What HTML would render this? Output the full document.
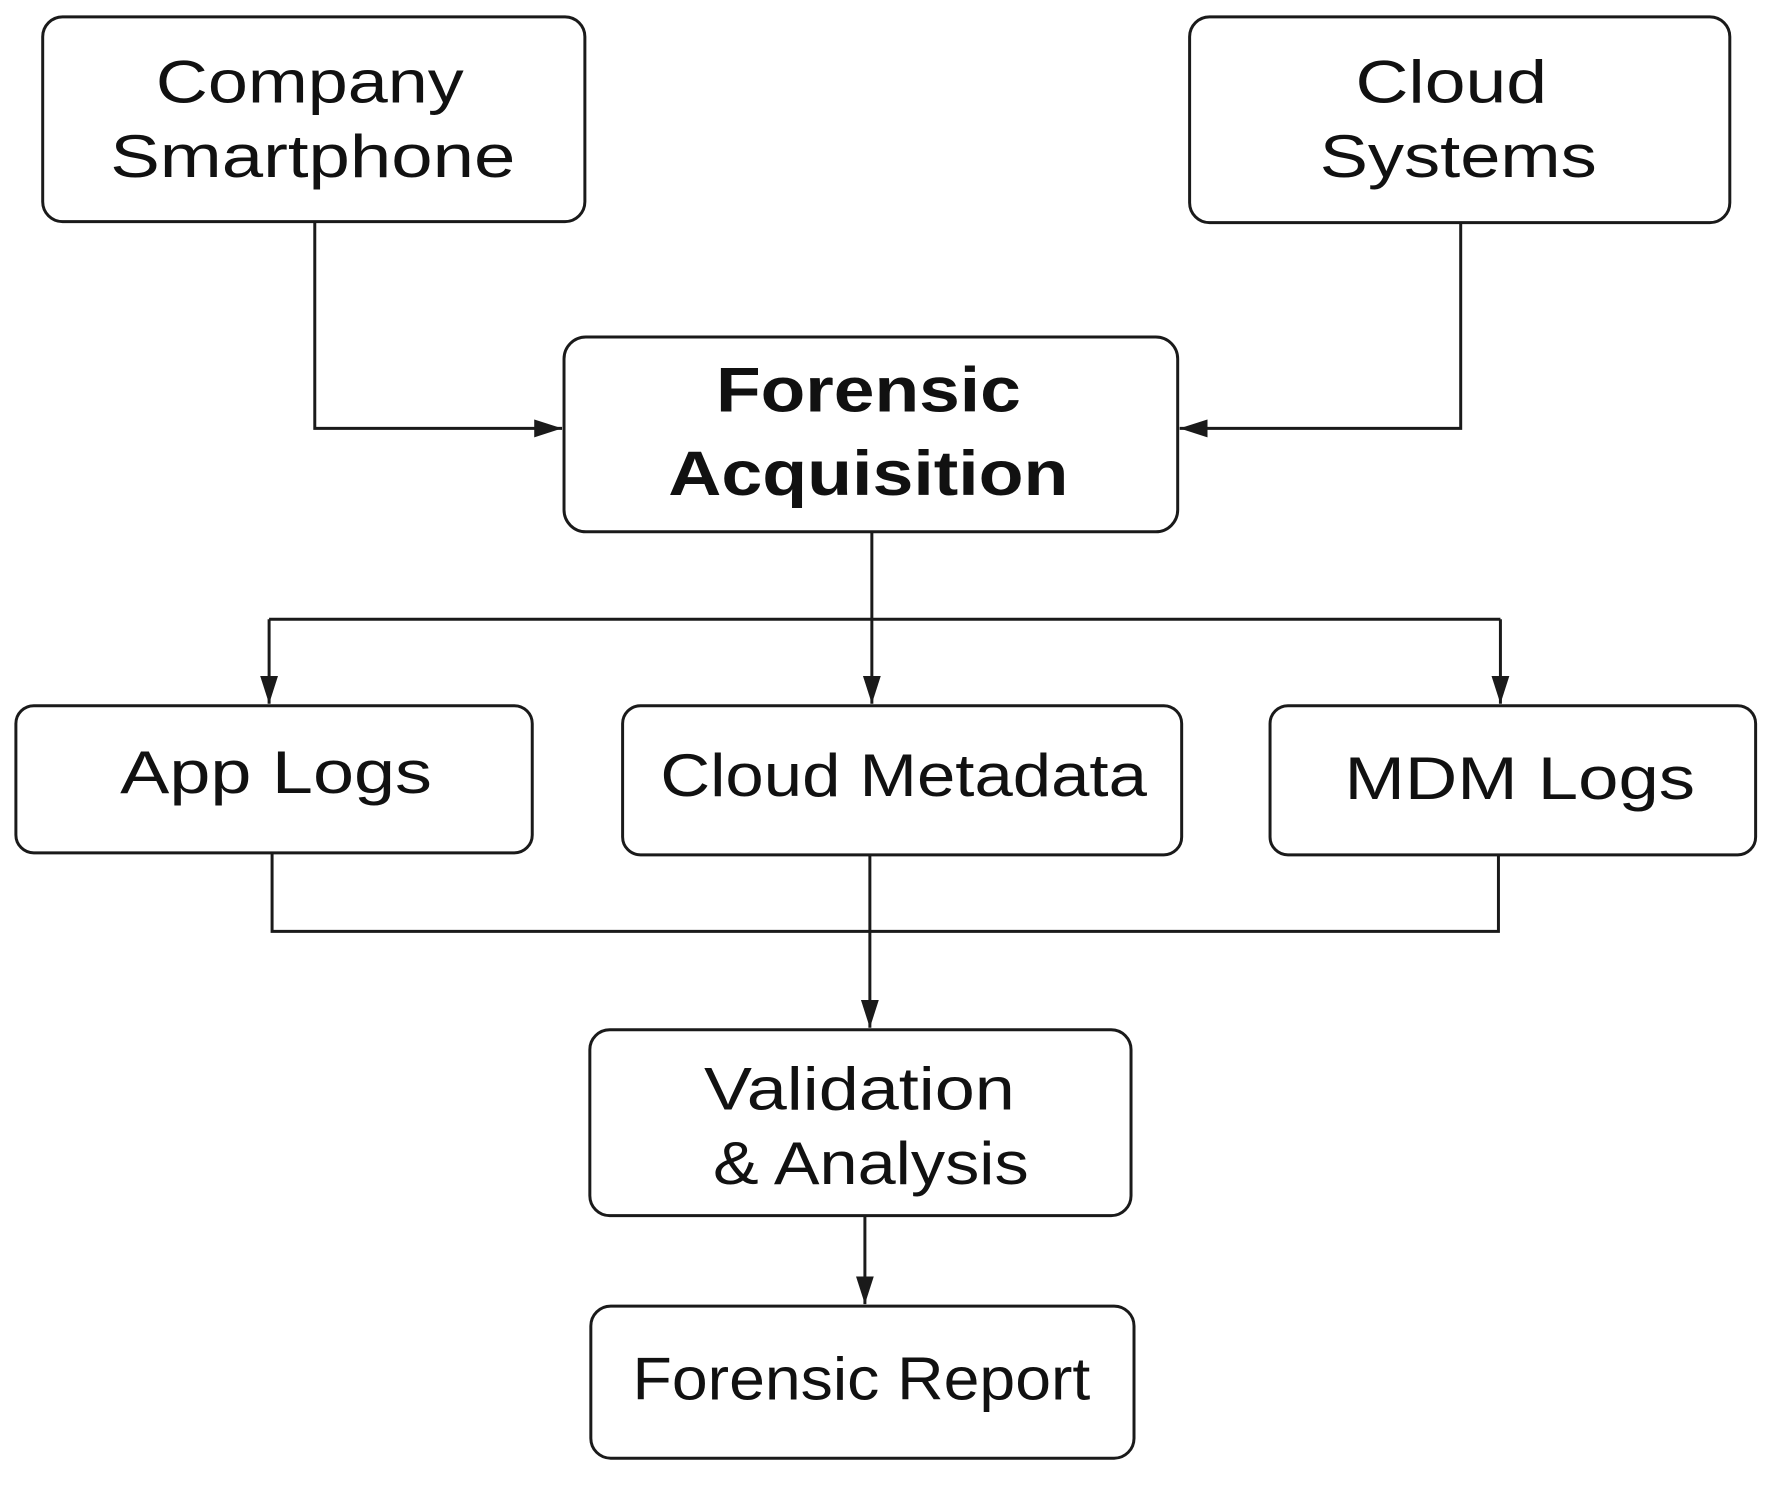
<!DOCTYPE html>
<html><head><meta charset="utf-8"><style>html,body{margin:0;padding:0;background:#fff}svg{display:block}</style></head>
<body>
<svg width="1786" height="1492" viewBox="0 0 1786 1492" xmlns="http://www.w3.org/2000/svg">
<defs>
<marker id="b" markerWidth="28" markerHeight="18" refX="28" refY="9" orient="auto" markerUnits="userSpaceOnUse">
<path d="M0,0 L28,9 L0,18 z" fill="#1a1a1a"/>
</marker>
</defs>
<g transform="scale(0.993,0.994)">
<g fill="#fff" stroke="#1a1a1a" stroke-width="3">
<rect x="43" y="17" width="546" height="206" rx="20"/>
<rect x="1198" y="17" width="544" height="207" rx="20"/>
<rect x="568" y="339" width="618" height="196" rx="22"/>
<rect x="16" y="710" width="520" height="148" rx="18"/>
<rect x="627" y="710" width="563" height="150" rx="18"/>
<rect x="1279" y="710" width="489" height="150" rx="18"/>
<rect x="594" y="1036" width="545" height="187" rx="20"/>
<rect x="595" y="1314" width="547" height="153" rx="20"/>
</g>
<g fill="none" stroke="#1a1a1a" stroke-width="3">
<path d="M317,223 V431 H566" marker-end="url(#b)"/>
<path d="M1471,224 V431 H1188" marker-end="url(#b)"/>
<path d="M878,535 V708" marker-end="url(#b)"/>
<path d="M271,623 H1511"/>
<path d="M271,623 V708" marker-end="url(#b)"/>
<path d="M1511,623 V708" marker-end="url(#b)"/>
<path d="M274,858 V937 H1509 V860"/>
<path d="M876,860 V1034" marker-end="url(#b)"/>
<path d="M871,1223 V1312" marker-end="url(#b)"/>
</g>
<g font-family="Liberation Sans, Arial, sans-serif" font-size="61" fill="#111">
<text x="157" y="103" textLength="310" lengthAdjust="spacingAndGlyphs">Company</text>
<text x="111" y="178" textLength="408" lengthAdjust="spacingAndGlyphs">Smartphone</text>
<text x="1365" y="103" textLength="193" lengthAdjust="spacingAndGlyphs">Cloud</text>
<text x="1329" y="178" textLength="279" lengthAdjust="spacingAndGlyphs">Systems</text>
<text x="721" y="414" font-weight="bold" font-size="63" textLength="307" lengthAdjust="spacingAndGlyphs">Forensic</text>
<text x="673" y="498" font-weight="bold" font-size="63" textLength="403" lengthAdjust="spacingAndGlyphs">Acquisition</text>
<text x="121" y="798" textLength="314" lengthAdjust="spacingAndGlyphs">App Logs</text>
<text x="665" y="801" textLength="490" lengthAdjust="spacingAndGlyphs">Cloud Metadata</text>
<text x="1354" y="804" textLength="353" lengthAdjust="spacingAndGlyphs">MDM Logs</text>
<text x="709" y="1116" textLength="313" lengthAdjust="spacingAndGlyphs">Validation</text>
<text x="718" y="1191" textLength="318" lengthAdjust="spacingAndGlyphs">&amp; Analysis</text>
<text x="637" y="1408" textLength="461" lengthAdjust="spacingAndGlyphs">Forensic Report</text>
</g>
</g>
</svg>
</body></html>
